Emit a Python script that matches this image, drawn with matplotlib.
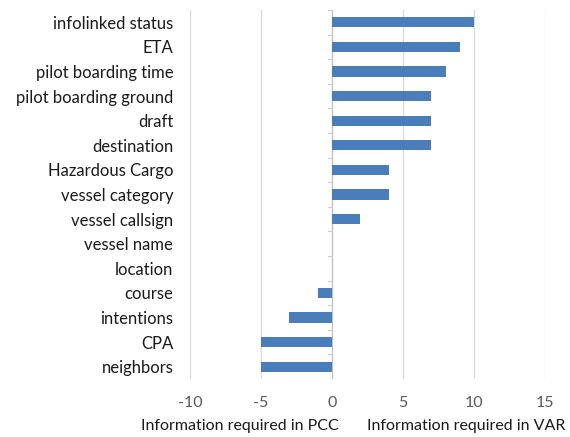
import numpy as np
import matplotlib.pyplot as plt

categories = ["infolinked status", "ETA", "pilot boarding time", "pilot boarding ground",
              "draft", "destination", "Hazardous Cargo", "vessel category",
              "vessel callsign", "vessel name", "location", "course",
              "intentions", "CPA", "neighbors"]
values = [10, 9, 8, 7, 7, 7, 4, 4, 2, 0, 0, -1, -3, -5, -5]
xticks = [-10, -5, 0, 5, 10, 15]

plt.rcParams['font.family'] = ['Lato', 'DejaVu Sans']

fig = plt.figure(figsize=(5.7, 4.37), dpi=100)
ax = fig.add_axes([190 / 570, 1 - 379 / 437, 355 / 570, 369 / 437])

y = np.arange(len(categories))
ax.barh(y, values, height=0.42, color='#4a7ebb', zorder=3)
ax.set_ylim(len(categories) - 0.5, -0.5)
ax.set_xlim(-10, 15)
ax.set_xticks(xticks)
ax.set_xticklabels([str(t) for t in xticks], color='#595959', fontsize=11.5)
ax.set_yticks(y)
ax.set_yticklabels(categories, fontsize=12, color='#1a1a1a')
ax.tick_params(axis='both', length=0)
ax.tick_params(axis='x', pad=12)
ax.tick_params(axis='y', pad=12)

for t in xticks:
    if t != 0:
        ax.axvline(t, color='#d9d9d9', lw=0.9, zorder=1)
ax.axvline(0, color='#bfbfbf', lw=0.9, zorder=2)
# small minor ticks on the category axis
for b in np.arange(len(categories) + 1) - 0.5:
    ax.plot([-0.25, 0], [b, b], color='#cccccc', lw=0.8, zorder=2)

for s in ax.spines.values():
    s.set_visible(False)

fig.text(240 / 570, 1 - 426 / 437, "Information required in PCC", ha='center', va='center', fontsize=11.5, color='#1a1a1a')
fig.text(466 / 570, 1 - 426 / 437, "Information required in VAR", ha='center', va='center', fontsize=11.5, color='#1a1a1a')

fig.savefig('out.png', dpi=100)
